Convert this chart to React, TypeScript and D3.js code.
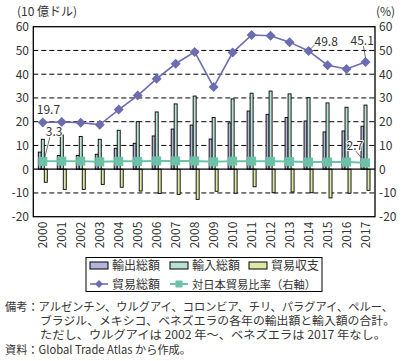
import React from "react";
import * as d3 from "d3";

const years = ["2000","2001","2002","2003","2004","2005","2006","2007","2008","2009","2010","2011","2012","2013","2014","2015","2016","2017"];
const exportsTotal = [7.2, 5.8, 5.8, 6.3, 8.8, 10.9, 14.0, 16.9, 18.6, 12.7, 19.5, 24.5, 23.1, 21.8, 20.3, 15.7, 16.1, 18.1];
const importsTotal = [12.6, 14.4, 13.8, 12.6, 16.4, 20.0, 24.1, 27.5, 30.8, 21.8, 29.6, 32.0, 32.9, 31.7, 30.1, 27.9, 26.1, 27.0];
const tradeBalance = [-5.5, -8.5, -8.5, -6.4, -7.6, -9.2, -10.2, -10.6, -12.7, -9.3, -10.1, -7.4, -9.9, -9.6, -9.9, -12.1, -10.1, -8.9];
const tradeTotal = [19.7, 19.9, 19.6, 18.7, 25.1, 31.0, 38.1, 44.4, 49.4, 34.6, 49.1, 56.5, 56.2, 53.5, 49.8, 43.8, 42.2, 45.1];
const japanRatio = [3.3, 3.4, 3.4, 3.1, 3.3, 3.3, 3.5, 3.5, 3.5, 3.1, 3.4, 3.4, 3.3, 3.2, 3.0, 3.0, 3.0, 2.7];
const leftTicks = [-20, -10, 0, 10, 20, 30, 40, 50, 60];
const rightTicks = [-20, -10, 0, 10, 20, 30, 40, 50, 60];
const gridValues = [-10, 10, 20, 30, 40, 50];
const notes = [
  "備考：アルゼンチン、ウルグアイ、コロンビア、チリ、パラグアイ、ペルー、",
  "ブラジル、メキシコ、ベネズエラの各年の輸出額と輸入額の合計。",
  "ただし、ウルグアイは 2002 年～、ベネズエラは 2017 年なし。",
  "資料：Global Trade Atlas から作成。",
];
const noteX = [5, 40, 40, 5];
const noteW = [388, 355, 346, 186];

const FONT = "'Noto Sans CJK JP', 'Noto Sans', sans-serif";
const C_EXP = "#b4b4da";
const C_IMP = "#b8e2d4";
const C_BAL = "#dde9a6";
const C_TOT = "#6c6cb0";
const C_RAT = "#6cc2a8";
const TXT = "#333";

export default function App() {
  const left = 33.3, right = 375, top = 26.7, bottom = 216.7;
  const x = d3.scaleBand<string>().domain(years).range([left, right]);
  const y = d3.scaleLinear().domain([-20, 60]).range([bottom, top]);
  const yR = d3.scaleLinear().domain([-20, 60]).range([bottom, top]);
  const sub = d3.scaleBand<string>().domain(["e", "i", "b"]).range([-4.5, 4.5]);
  const cx = (i: number) => (x(years[i]) as number) + x.bandwidth() / 2;

  const totLine = d3.line<number>().x((_, i) => cx(i)).y((d) => y(d))(tradeTotal) as string;
  const ratLine = d3.line<number>().x((_, i) => cx(i)).y((d) => yR(d))(japanRatio) as string;

  const bar = (v: number, i: number, k: string, fill: string) => {
    const x0 = cx(i) + (sub(k) as number);
    const y0 = y(Math.max(0, v));
    const h = Math.abs(y(v) - y(0));
    return <rect key={k + i} x={x0} y={y0} width={sub.bandwidth()} height={h} fill={fill} stroke="#000" strokeWidth={0.9} />;
  };

  const diamond = (px: number, py: number, s: number) =>
    `M${px},${py - s}L${px + s},${py}L${px},${py + s}L${px - s},${py}Z`;

  const last = years.length - 1;

  return (
    <svg width={406} height={361} style={{ position: "absolute", left: 0, top: 0, background: "#fff" }} fontFamily={FONT}>
      <text x={17} y={16} fontSize={12} fill={TXT}>(10 億ドル)</text>
      <text x={376} y={15.5} fontSize={12} fill={TXT}>(%)</text>

      {gridValues.map((g) => (
        <line key={g} x1={left} x2={right} y1={y(g)} y2={y(g)} stroke="#000" strokeWidth={1} strokeDasharray="5,3" />
      ))}

      {years.map((_, i) => bar(exportsTotal[i], i, "e", C_EXP))}
      {years.map((_, i) => bar(importsTotal[i], i, "i", C_IMP))}
      {years.map((_, i) => bar(tradeBalance[i], i, "b", C_BAL))}

      <line x1={left} x2={right} y1={y(0)} y2={y(0)} stroke="#000" strokeWidth={1.2} />
      <rect x={left} y={top} width={right - left} height={bottom - top} fill="none" stroke="#000" strokeWidth={1.3} />

      <path d={ratLine} fill="none" stroke={C_RAT} strokeWidth={2} />
      {japanRatio.map((v, i) => (
        <rect key={"r" + i} x={cx(i) - 4.5} y={yR(v) - 4.5} width={9} height={9} fill={C_RAT} />
      ))}

      <path d={totLine} fill="none" stroke={C_TOT} strokeWidth={1.6} />
      {tradeTotal.map((v, i) => (
        <path key={"t" + i} d={diamond(cx(i), y(v), 5)} fill={C_TOT} />
      ))}

      {leftTicks.map((t) => (
        <text key={"l" + t} x={29} y={y(t) + 4.5} fontSize={12} fill={TXT} textAnchor="end">{t}</text>
      ))}
      {rightTicks.map((t) => (
        <text key={"rt" + t} x={379} y={y(t) + 4.5} fontSize={12} fill={TXT} textAnchor="start">{t}</text>
      ))}

      {years.map((yr, i) => (
        <text key={"x" + yr} transform={`translate(${cx(i) + 4.5},${bottom + 5}) rotate(-90)`} fontSize={12} fill={TXT} textAnchor="end">{yr}</text>
      ))}

      {/* data labels */}
      <text x={cx(0) - 6} y={y(tradeTotal[0]) - 8} fontSize={12} fill={TXT}>{tradeTotal[0].toFixed(1)}</text>
      <line x1={cx(0) + 7} y1={y(japanRatio[0]) - 24} x2={cx(0) + 2} y2={y(japanRatio[0]) - 4} stroke="#333" strokeWidth={0.7} />
      <text x={cx(0) + 3} y={y(japanRatio[0]) - 25} fontSize={12} fill={TXT} stroke="#fff" strokeWidth={2} paintOrder="stroke">{japanRatio[0].toFixed(1)}</text>

      <line x1={cx(14) + 1} y1={y(tradeTotal[14]) - 1} x2={cx(14) + 6} y2={y(tradeTotal[14]) - 6} stroke="#333" strokeWidth={0.7} />
      <text x={cx(14) + 6} y={y(tradeTotal[14]) - 5} fontSize={12} fill={TXT}>{tradeTotal[14].toFixed(1)}</text>

      <line x1={cx(last) - 2} y1={y(tradeTotal[last]) - 16} x2={cx(last)} y2={y(tradeTotal[last]) - 4} stroke="#333" strokeWidth={0.7} />
      <text x={cx(last) - 15} y={y(tradeTotal[last]) - 17} fontSize={12} fill={TXT}>{tradeTotal[last].toFixed(1)}</text>

      <line x1={cx(last) - 10} y1={yR(japanRatio[last]) - 12} x2={cx(last) - 4} y2={yR(japanRatio[last]) - 5} stroke="#333" strokeWidth={0.7} />
      <text x={cx(last) - 19} y={yR(japanRatio[last]) - 13} fontSize={12} fill={TXT} stroke="#fff" strokeWidth={2} paintOrder="stroke">{japanRatio[last].toFixed(1)}</text>

      {/* legend */}
      <rect x={86} y={257.5} width={236} height={34} fill="#fff" stroke="#000" strokeWidth={1} />
      <rect x={90} y={262} width={18} height={7} fill={C_EXP} stroke="#000" strokeWidth={1} />
      <text x={112} y={270} fontSize={12} fill={TXT}>輸出総額</text>
      <rect x={170} y={262} width={18} height={7} fill={C_IMP} stroke="#000" strokeWidth={1} />
      <text x={192} y={270} fontSize={12} fill={TXT}>輸入総額</text>
      <rect x={249} y={262} width={18} height={7} fill={C_BAL} stroke="#000" strokeWidth={1} />
      <text x={271} y={270} fontSize={12} fill={TXT}>貿易収支</text>

      <line x1={90} x2={108} y1={284} y2={284} stroke={C_TOT} strokeWidth={1.6} />
      <path d={diamond(99, 284, 4)} fill={C_TOT} />
      <text x={112} y={288.5} fontSize={12} fill={TXT}>貿易総額</text>
      <line x1={170} x2={188} y1={284} y2={284} stroke={C_RAT} strokeWidth={2} />
      <rect x={175.5} y={280.5} width={7} height={7} fill={C_RAT} />
      <text x={192} y={288.5} fontSize={11.5} fill={TXT} textLength={124} lengthAdjust="spacingAndGlyphs">対日本貿易比率（右軸）</text>

      {notes.map((n, i) => (
        <text key={"n" + i} x={noteX[i]} y={311 + i * 14.2} fontSize={11.5} fill={TXT} textLength={noteW[i]} lengthAdjust="spacingAndGlyphs">{n}</text>
      ))}
    </svg>
  );
}
